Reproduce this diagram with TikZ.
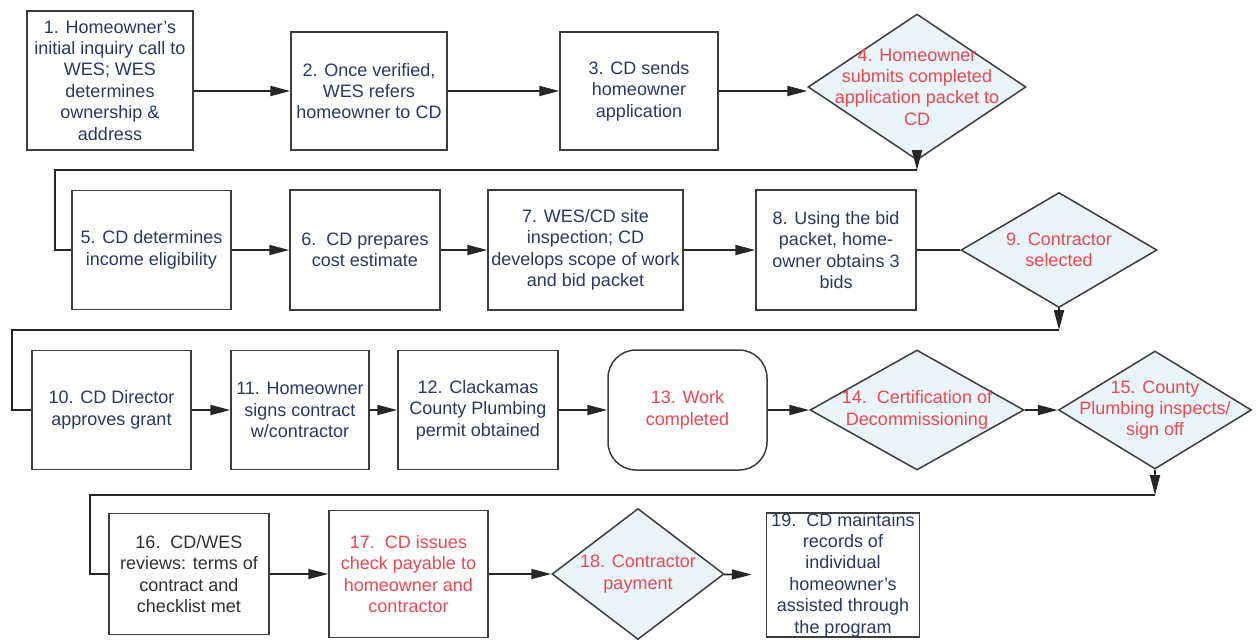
\documentclass[tikz,border=0pt]{standalone}
\usepackage{fontspec}
\setmainfont{Liberation Sans}
\usetikzlibrary{arrows.meta,shapes.geometric}
\definecolor{navy}{RGB}{42,56,98}
\definecolor{redtxt}{RGB}{236,72,82}
\definecolor{decfill}{RGB}{233,245,248}
\definecolor{boxline}{RGB}{60,60,64}
\definecolor{greytxt}{RGB}{48,48,52}

\begin{document}
\begin{tikzpicture}[
  x=0.5pt, y=-0.5pt,
  every node/.style={inner sep=1pt, font=\fontsize{9}{10.7}\selectfont},
  box/.style     ={draw=boxline, line width=0.75pt, fill=white, align=center, text=navy},
  decision/.style={diamond, draw=boxline, line width=0.75pt, fill=decfill, inner sep=0pt},
  redlab/.style  ={text=redtxt, align=center},
  ar/.style      ={-{Triangle[length=10pt,width=5pt]}, line width=0.9pt, draw=black!85},
  link/.style    ={line width=0.9pt, draw=black!85}]

\path[use as bounding box, fill=white] (0,0) rectangle (1257,639);

% ----------------------------- row 1 ---------------------------------
\node[box, minimum width=83pt, minimum height=69.5pt] (b1) at (110,80.5)
  {1. Homeowner’s\\initial inquiry call to\\WES; WES\\determines\\ownership \&\\address};
\node[box, minimum width=78pt, minimum height=59pt] (b2) at (369,91)
  {2. Once verified,\\WES refers\\homeowner to CD};
\node[box, minimum width=79pt, minimum height=59pt] (b3) at (639,91)
  {3. CD sends\\homeowner\\application};
\node[decision, minimum width=109pt, minimum height=73pt,
  label={[redlab, name=t4]center:{4. Homeowner\\submits completed\\application packet to\\CD}}]
  (d4) at (917,87) {};

\draw[ar] (b1.east |- b2) -- (b2);
\draw[ar] (b2) -- (b3);
\draw[ar] (b3) -- (b3 -| d4.west);

% ----------------------------- row 2 ---------------------------------
\node[box, minimum width=79.5pt, minimum height=59.5pt] (b5) at (151.5,250)
  {5. CD determines\\income eligibility};
\node[box, minimum width=75pt, minimum height=60pt] (b6) at (365,250)
  {6.\ \ CD prepares\\cost estimate};
\node[box, minimum width=97.5pt, minimum height=60pt] (b7) at (585.5,250)
  {7. WES/CD site\\inspection; CD\\develops scope of work\\and bid packet};
\node[box, minimum width=80pt, minimum height=60pt] (b8) at (836,250)
  {8. Using the bid\\packet, home-\\owner obtains 3\\bids};
\node[decision, minimum width=98pt, minimum height=57.5pt,
  label={[redlab, name=t9]center:{9. Contractor\\selected}}]
  (d9) at (1059,250) {};

% 4 -> 5
\coordinate (c4) at (917,170);
\coordinate (e4) at (55,170);
\draw[ar] (d4.south) -- (c4);
\draw[link] (c4) -- (e4) |- (b5.west);

\draw[ar] (b5) -- (b6);
\draw[ar] (b6) -- (b7);
\draw[ar] (b7) -- (b8);
\draw[link] (b8) -- (d9);

% ----------------------------- row 3 ---------------------------------
\node[box, minimum width=79.5pt, minimum height=59.5pt] (b10) at (111.5,410)
  {10. CD Director\\approves grant};
\node[box, minimum width=69pt, minimum height=59.5pt] (b11) at (300,410)
  {11. Homeowner\\signs contract\\w/contractor};
\node[box, minimum width=80pt, minimum height=59.5pt] (b12) at (478,410)
  {12. Clackamas\\County Plumbing\\permit obtained};
\node[box, rounded corners=14pt, text=redtxt, minimum width=79.5pt, minimum height=60pt]
  (r13) at (687.5,410) {13. Work\\completed};
\node[decision, minimum width=107pt, minimum height=60pt,
  label={[redlab, name=t14]center:{14.\ \ Certification of\\Decommissioning}}]
  (d14) at (917,410) {};
\node[decision, minimum width=96.5pt, minimum height=59pt,
  label={[redlab, name=t15]center:{15. County\\Plumbing inspects/\\sign off}}]
  (d15) at (1155,410) {};

% 9 -> 10
\coordinate (c9) at (1059,330);
\coordinate (e9) at (12,330);
\draw[ar] (d9.south) -- (c9);
\draw[link] (c9) -- (e9) |- (b10.west);

\draw[ar] (b10) -- (b11);
\draw[ar] (b11) -- (b12);
\draw[ar] (b12) -- (r13);
\draw[ar] (r13) -- (d14);
\draw[ar] (d14) -- (d15);

% ----------------------------- row 4 ---------------------------------
\node[box, text=greytxt, minimum width=80pt, minimum height=60.5pt] (b16) at (189,574)
  {16.\ \ CD/WES\\reviews: terms of\\contract and\\checklist met};
\node[box, text=redtxt, minimum width=79.5pt, minimum height=63.5pt] (b17) at (408.5,574)
  {17.\ \ CD issues\\check payable to\\homeowner and\\contractor};
\node[decision, minimum width=86pt, minimum height=65.5pt,
  label={[redlab, name=t18]center:{18. Contractor\\payment}}]
  (d18) at (638,574) {};
\node[box, inner ysep=0pt, minimum width=76.5pt, minimum height=62pt] (b19) at (843,575)
  {19.\ \ CD maintains\\records of\\individual\\homeowner’s\\assisted through\\the program};

% 15 -> 16
\coordinate (c15) at (1155,495);
\coordinate (e15) at (90,495);
\draw[ar] (d15.south) -- (c15);
\draw[link] (c15) -- (e15) |- (b16.west);

\draw[ar] (b16) -- (b17);
\draw[ar] (b17) -- (d18);
\draw[ar, shorten >=7pt] (d18) -- (b19);

\end{tikzpicture}
\end{document}
